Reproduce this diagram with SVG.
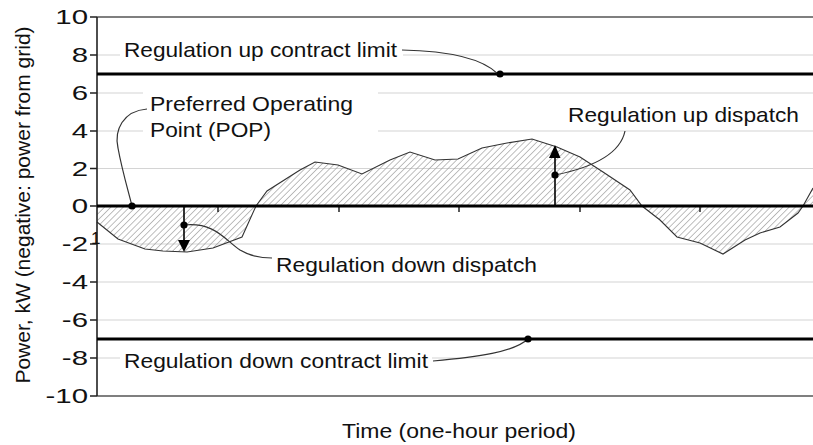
<svg xmlns="http://www.w3.org/2000/svg" width="813" height="445" viewBox="0 0 813 445">
<style>
text{font-family:"Liberation Sans",Arial,sans-serif;fill:#111;}
.lbl{font-size:21px;}
.tick{font-size:21px;text-anchor:end;}
.grid{stroke:#d4d4d4;stroke-width:1.2;fill:none;}
.frame{stroke:#555;stroke-width:1.5;fill:none;}
.thick{stroke:#000;stroke-width:2.8;fill:none;}
.lead{stroke:#333;stroke-width:1.2;fill:none;}
.dot{fill:#000;}
.tk{stroke:#000;stroke-width:1.3;}
</style>
<defs>
<pattern id="hatch" patternUnits="userSpaceOnUse" width="4.4" height="4.4" patternTransform="rotate(45)">
<line x1="0" y1="0" x2="0" y2="4.4" stroke="#9c9c9c" stroke-width="1.3"/>
</pattern>
</defs>
<rect width="813" height="445" fill="#fff"/>
<g id="gridlines">
<path class="grid" d="M97,55H120M403,55H813M97,93H143M378,93H813M97,131H143M378,131H813M97,168.5H813M97,244H813M97,282H813M97,320H813M97,358H120M432,358H813"/>
</g>
<g id="series">
<polygon fill="url(#hatch)" stroke="none" points="97,206 97,222 118,239 145,249 163,251 187,252 213,248 242,237 256,206 267,191 300,170 315,162 338,165 362,174 390,160 410,152 435,160 458,159 482,148 507,143 532,139 557,147 580,157 603,172 630,190 642,206 660,220 677,237 700,243 723,254 745,240 760,233 780,227 798,213 803,206 813,188 813,206"/>
<polyline fill="none" stroke="#333" stroke-width="1.1" points="97,222 118,239 145,249 163,251 187,252 213,248 242,237 256,206 267,191 300,170 315,162 338,165 362,174 390,160 410,152 435,160 458,159 482,148 507,143 532,139 557,147 580,157 603,172 630,190 642,206 660,220 677,237 700,243 723,254 745,240 760,233 780,227 798,213 803,206 813,188"/>
</g>
<g id="axes">
<path class="frame" d="M97,17H813M97,396H813"/>
<path stroke="#222" stroke-width="1.6" fill="none" d="M97,17V396M90,17H97M90,55H97M90,93H97M90,131H97M90,168.5H97M90,206H97M90,244H97M90,282H97M90,320H97M90,358H97M90,396H97"/>
<path class="thick" d="M97,206H813"/>
<path class="tk" d="M218,206V212M339,206V212M459,206V212M580,206V212M700,206V212"/>
<g transform="translate(88 0) scale(1.4 1)">
<text class="tick" x="0" y="24.5">10</text>
<text class="tick" x="0" y="62.5">8</text>
<text class="tick" x="0" y="100.5">6</text>
<text class="tick" x="0" y="138.5">4</text>
<text class="tick" x="0" y="176">2</text>
<text class="tick" x="0" y="213.5">0</text>
<text class="tick" x="0" y="251.5">-2</text>
<text class="tick" x="0" y="289.5">-4</text>
<text class="tick" x="0" y="327.5">-6</text>
<text class="tick" x="0" y="365.5">-8</text>
<text class="tick" x="0" y="403.5">-10</text>
</g>
<text x="91" y="244" style="font-size:17px">1</text>
<text class="lbl" transform="translate(30,205) rotate(-90)" text-anchor="middle">Power, kW (negative: power from grid)</text>
<text class="lbl" x="342" y="438" textLength="234" lengthAdjust="spacingAndGlyphs">Time (one-hour period)</text>
</g>
<g id="reg-up-limit">
<path class="thick" d="M97,74H813"/>
<text class="lbl" x="124" y="57" textLength="273" lengthAdjust="spacingAndGlyphs">Regulation up contract limit</text>
</g>
<g id="reg-down-limit">
<path class="thick" d="M97,339H813"/>
<text class="lbl" x="124" y="368" textLength="304" lengthAdjust="spacingAndGlyphs">Regulation down contract limit</text>
</g>
<g id="pop">
<text class="lbl" x="150" y="111" textLength="203" lengthAdjust="spacingAndGlyphs">Preferred Operating</text>
<text class="lbl" x="150" y="137" textLength="121" lengthAdjust="spacingAndGlyphs">Point (POP)</text>
</g>
<g id="reg-up-dispatch">
<path class="thick" style="stroke-width:1.6" d="M555,206V156"/>
<polygon class="dot" points="549,158 560.5,158 555,145"/>
<text class="lbl" x="568" y="122" textLength="231" lengthAdjust="spacingAndGlyphs">Regulation up dispatch</text>
</g>
<g id="reg-down-dispatch">
<path class="thick" style="stroke-width:1.6" d="M184,206V242"/>
<polygon class="dot" points="178,240 190,240 184,252"/>
<text class="lbl" x="276" y="272" textLength="261" lengthAdjust="spacingAndGlyphs">Regulation down dispatch</text>
</g>
<g id="connectors">
<path class="lead" d="M402,50C450,51 482,58 498,74"/>
<circle class="dot" cx="500" cy="74" r="3.6"/>
<path class="lead" d="M433,361C478,357 514,352 528,339"/>
<circle class="dot" cx="528" cy="339" r="3.6"/>
<path class="lead" d="M147,109C123,111 114,130 118,148C122,170 128,190 132,206"/>
<circle class="dot" cx="132" cy="206" r="3.6"/>
<path class="lead" d="M555,175C590,168 620,155 625,131"/>
<circle class="dot" cx="555" cy="175" r="3.6"/>
<path class="lead" d="M184,225C215,222 225,240 240,250C250,256 260,258 272,258"/>
<circle class="dot" cx="184" cy="225" r="3.6"/>
</g>
</svg>
